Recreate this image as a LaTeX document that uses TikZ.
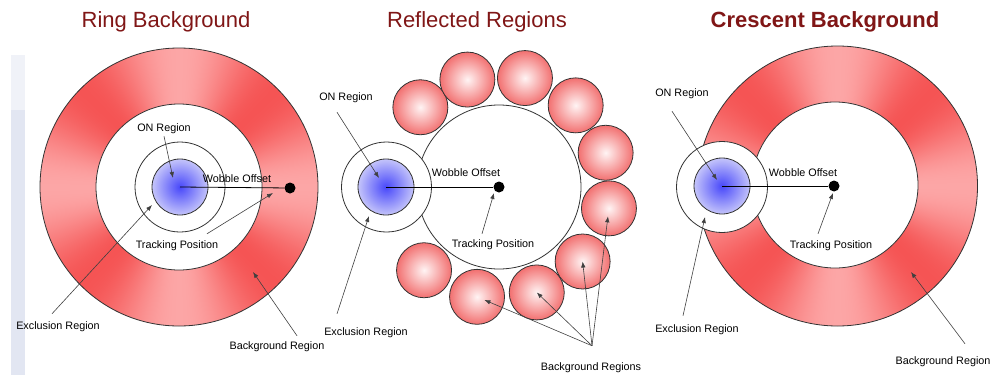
\documentclass[tikz,border=0pt]{standalone}
\usepackage{fontspec}
\setmainfont{Liberation Sans}
\usetikzlibrary{positioning,arrows.meta}

\definecolor{titlered}{RGB}{128,22,22}
\definecolor{onblue}{RGB}{72,72,250}
\definecolor{onedge}{RGB}{196,196,250}
\definecolor{ballmid}{RGB}{255,244,244}
\definecolor{balledge}{RGB}{242,112,112}
\definecolor{stripgray}{RGB}{226,230,242}
\definecolor{stripfaint}{RGB}{240,242,248}

\pgfdeclareradialshading{onshade}{\pgfpoint{0bp}{0bp}}{color(0bp)=(onblue); color(25bp)=(onedge); color(50bp)=(onedge)}
\pgfdeclareradialshading{ballshade}{\pgfpoint{0bp}{0bp}}{color(0bp)=(ballmid); color(25bp)=(balledge); color(50bp)=(balledge)}
% light at top/bottom/left/right, deep red on the diagonals
\pgfdeclarefunctionalshading{ringshade}{\pgfpoint{-50bp}{-50bp}}{\pgfpoint{50bp}{50bp}}{}{
  exch 0.001 add atan 4 mul cos 1 add 2 div
  dup dup 0.32 mul 0.33 add
  exch 0.32 mul 0.33 add
  exch
  3 -1 roll 0.03 mul 0.96 add
  3 1 roll
}

\begin{document}
\begin{tikzpicture}[x=1pt,y=-1pt,>={Latex[length=6pt,width=4.5pt]},
    ttl/.style={font=\fontsize{22}{24}\selectfont,text=titlered},
    lbl/.style={font=\fontsize{10.8}{12}\selectfont,inner sep=0pt},
    disc/.style={circle,draw=black!80,line width=0.8pt,inner sep=0pt,minimum size=#1},
    ringbg/.style={disc=#1,shading=ringshade},
    hole/.style={disc=#1,fill=white},
    onreg/.style={disc=56pt,shading=onshade},
    refl/.style={disc=55pt,shading=ballshade},
    wob/.style={circle,fill=black,inner sep=0pt,minimum size=11pt},
    arr/.style={->,draw=black!75,line width=0.6pt}]
\useasboundingbox (0,0) rectangle (992,375);
\fill[stripfaint] (11,55) rectangle (25,110);
\fill[stripgray] (11,110) rectangle (25,375);

% ring background
\node[ttl] (ttl1) at (166,22) {Ring Background};
\node[ringbg=278pt] (ring1) at (179,187) {};
\node[hole=166pt] (hole1) at (179,187) {};
\node[hole=90pt] (excl1) at (180,187) {};
\node[onreg] (on1) at (180,187) {};
\node[wob] (dot1) at (290,188) {};
\draw[line width=0.8pt] (on1.center) -- (dot1);
\node[lbl] (wob1) at (237,179) {Wobble Offset};
\node[lbl] (onlbl1) at (164,129) {ON Region};
\node[lbl] (trk1) at (177,246) {Tracking Position};
\node[lbl] (exl1) at (58,327) {Exclusion Region};
\node[lbl] (bgl1) at (277,347) {Background Region};
\coordinate (ontip1) at (173,178);
\coordinate (trktip1) at (273,193);
\coordinate (exltip1) at (152,205);
\coordinate (bgtip1) at (253,272);
\draw[arr] ([shift={(0,2)}]onlbl1.south) -- (ontip1);
\draw[arr] ([shift={(30,-7)}]trk1.north) -- (trktip1);
\draw[arr] ([shift={(-6,-8)}]exl1.north) -- (exltip1);
\draw[arr] ([shift={(20,-6)}]bgl1.north) -- (bgtip1);

% reflected regions
\node[ttl] (ttl2) at (477,22) {Reflected Regions};
\coordinate (ctr2) at (499,187);
\node[hole=164pt] (hole2) at (ctr2) {};
\foreach \a [count=\i] in {-134.6,-106.4,-76.6,-46.8,-17.8,11,41.7,70.3,101.3,132}
  \node[refl] (refl\i) at ([shift={(\a:112)}]ctr2) {};
\node[hole=90pt] (excl2) at (386.5,187) {};
\node[onreg] (on2) at (386,187) {};
\node[wob] (dot2) at (ctr2) {};
\draw[line width=0.8pt] (on2.center) -- (dot2);
\node[lbl] (wob2) at (466,173) {Wobble Offset};
\node[lbl] (onlbl2) at (346,98) {ON Region};
\node[lbl] (trk2) at (493,245) {Tracking Position};
\node[lbl] (exl2) at (366,333) {Exclusion Region};
\node[lbl] (bgl2) at (591,368) {Background Regions};
\coordinate (ontip2) at (379,178);
\coordinate (trktip2) at (494,193);
\coordinate (exltip2) at (369,216);
\coordinate (bgfoot2) at ([shift={(1,-17)}]bgl2.north);
\draw[arr] ([shift={(-9,9)}]onlbl2.south) -- (ontip2);
\draw[arr] ([shift={(-11,-6)}]trk2.north) -- (trktip2);
\draw[arr] ([shift={(-29,-14)}]exl2.north) -- (exltip2);
\draw[arr,shorten >=8pt] (bgfoot2) -- (refl9.center);
\draw[arr] (bgfoot2) -- (refl8.center);
\draw[arr] (bgfoot2) -- (refl7.center);
\draw[arr,shorten >=8pt] (bgfoot2) -- (refl6.center);

% crescent background
\node[ttl,font=\fontsize{22}{24}\selectfont\bfseries] (ttl3) at (825,22) {Crescent Background};
\node[ringbg=280pt] (ring3) at (837.5,186) {};
\node[hole=166pt] (hole3) at (835,185) {};
\node[hole=91pt] (excl3) at (722,187) {};
\node[onreg] (on3) at (722,186) {};
\node[wob] (dot3) at (834,186) {};
\draw[line width=0.8pt] (on3.center) -- (dot3);
\node[lbl] (wob3) at (803,173) {Wobble Offset};
\node[lbl] (onlbl3) at (682,94) {ON Region};
\node[lbl] (trk3) at (831,246) {Tracking Position};
\node[lbl] (exl3) at (697,330) {Exclusion Region};
\node[lbl] (bgl3) at (943,362) {Background Region};
\coordinate (ontip3) at (717,180);
\coordinate (trktip3) at (833,193);
\coordinate (exltip3) at (705,217);
\coordinate (bgtip3) at (911,272);
\draw[arr] ([shift={(-10,12)}]onlbl3.south) -- (ontip3);
\draw[arr] ([shift={(-13,-7)}]trk3.north) -- (trktip3);
\draw[arr] ([shift={(-14,-9)}]exl3.north) -- (exltip3);
\draw[arr] ([shift={(22,-13)}]bgl3.north) -- (bgtip3);
\end{tikzpicture}
\end{document}
